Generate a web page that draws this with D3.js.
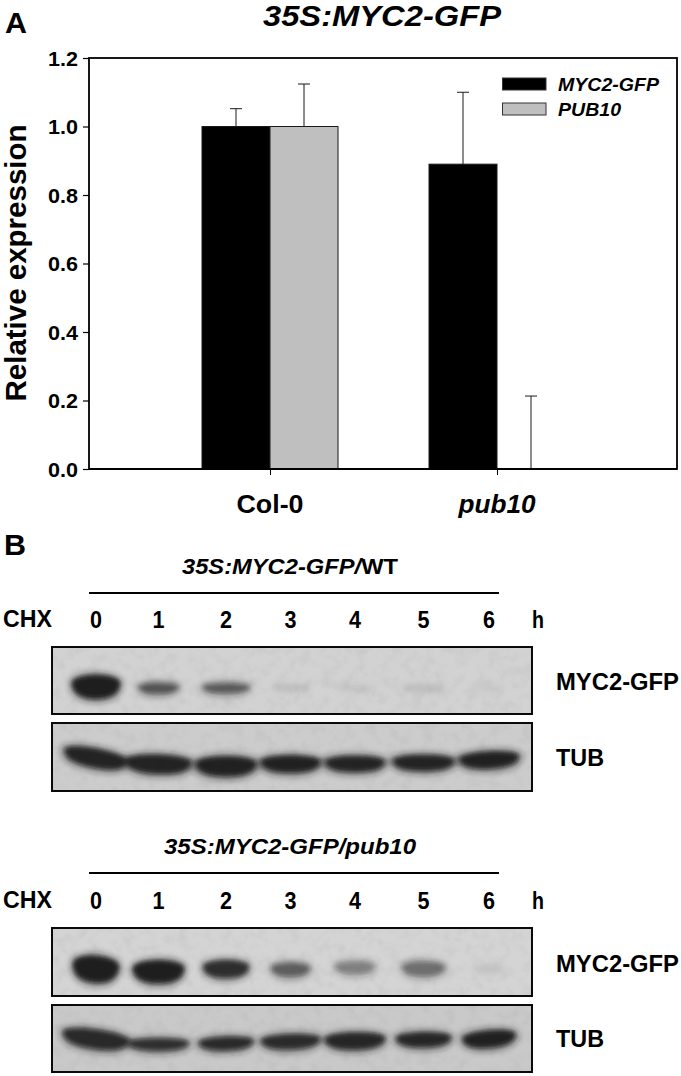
<!DOCTYPE html>
<html><head><meta charset="utf-8">
<script src="https://cdn.jsdelivr.net/npm/d3@7/dist/d3.min.js"></script>
<style>html,body{margin:0;padding:0;background:#fff}svg{display:block}
text{font-family:"Liberation Sans",Arial,sans-serif;font-weight:bold;fill:#000}</style>
</head><body><svg id="c" width="681" height="1076"></svg>
<script>
// ---- bar chart data
const groups = ["Col-0","pub10"];
const seriesNames = ["MYC2-GFP","PUB10"];
const seriesColors = ["#000000","#bfbfbf"];
const myc2Values = [1.0,0.89];
const pub10Values = [1.0,0.0];
const myc2Tops = [1.052,1.10];
const pub10Tops = [1.124,0.213];
const yTicks = [0,0.2,0.4,0.6,0.8,1.0,1.2];
// ---- blot data: lane labels, relative band darkness, width and height
const lanes = [0,1,2,3,4,5,6];
const wtMycDark = [1.0,0.55,0.52,0.06,0.04,0.06,0.03];
const wtMycW = [47,40,47,37,38,42,28];
const wtMycH = [24,12,11,8,8,9,8];
const wtTubDark = [0.95,0.95,0.97,0.97,0.95,0.95,0.97];
const wtTubW = [62,64,59,58,58,60,58];
const wtTubH = [19,19,20,17,16,16,17];
const pubMycDark = [1.0,1.0,0.86,0.5,0.34,0.42,0.05];
const pubMycW = [45,50,45,39,40,43,28];
const pubMycH = [27,23,18,15,14,16,11];
const pubTubDark = [0.82,0.78,0.82,0.88,0.92,0.92,0.97];
const pubTubW = [66,60,54,58,59,54,52];
const pubTubH = [20,13,14,15,17,15,17];

const svg = d3.select("#c");
const fit = (sel,len)=>sel.attr("textLength",len).attr("lengthAdjust","spacingAndGlyphs");

// ---- panel A
const yS = d3.scaleLinear().domain([0,1.2]).range([469,58]);
const x0 = d3.scaleBand().domain(groups).range([156.5,610.5]);
const x1 = d3.scaleBand().domain(seriesNames).range([0,136]);
const offset = x0.bandwidth()/2-68;
const L=89,R=677;
svg.append("rect").attr("x",L).attr("y",yS(1.2)).attr("width",R-L).attr("height",yS(0)-yS(1.2))
  .attr("fill","#fff").attr("stroke","#000").attr("stroke-width",1.8);
[myc2Values,pub10Values].forEach((vals,s)=>{
  const tops=s?pub10Tops:myc2Tops;
  groups.forEach((g,i)=>{
    const bx=x0(g)+offset+x1(seriesNames[s]), w=x1.bandwidth(), cx=bx+w/2;
    const e=svg.append("g").attr("stroke","#1a1a1a").attr("stroke-width",1);
    e.append("line").attr("x1",cx).attr("x2",cx).attr("y1",yS(vals[i])).attr("y2",yS(tops[i]));
    e.append("line").attr("x1",cx-6).attr("x2",cx+6).attr("y1",yS(tops[i])).attr("y2",yS(tops[i]));
    if(vals[i]>0) svg.append("rect").attr("x",bx).attr("y",yS(vals[i])).attr("width",w)
      .attr("height",yS(0)-yS(vals[i])).attr("fill",seriesColors[s]).attr("stroke","#1a1a1a").attr("stroke-width",1);
  });
});
const yAxis=svg.append("g").attr("transform",`translate(${L},0)`)
  .call(d3.axisLeft(yS).tickValues(yTicks).tickFormat(d3.format(".1f")).tickSize(6).tickPadding(5));
yAxis.select(".domain").remove();
yAxis.selectAll("line").attr("stroke","#000").attr("stroke-width",1.2);
yAxis.selectAll("text").attr("font-size",20.5).attr("dy","0.35em").call(fit,30);
const xAxis=svg.append("g").attr("transform",`translate(0,${yS(0)})`)
  .call(d3.axisBottom(d3.scalePoint().domain(groups).range([x0(groups[0])+x0.bandwidth()/2,x0(groups[1])+x0.bandwidth()/2])).tickSize(6).tickFormat(""));
xAxis.select(".domain").attr("stroke","#000").attr("stroke-width",1.8).attr("d",`M${L},0H${R}`);
xAxis.selectAll("line").attr("stroke","#000");
groups.forEach((g,i)=>{
  svg.append("text").attr("x",x0(g)+x0.bandwidth()/2).attr("y",513).attr("text-anchor","middle")
    .attr("font-size",26).attr("font-style",i?"italic":"normal").text(g).call(fit,i?77:67);
});
seriesNames.forEach((n,i)=>{
  const yy=[84,109][i];
  svg.append("rect").attr("x",502.5).attr("y",yy-6).attr("width",43.5).attr("height",12)
    .attr("fill",seriesColors[i]).attr("stroke","#333").attr("stroke-width",1);
  svg.append("text").attr("x",558).attr("y",yy+6.5).attr("font-size",18).attr("font-style","italic")
    .text(n).call(fit,i?63:101);
});
svg.append("text").attr("x",5).attr("y",33).attr("font-size",30).call(fit,22).text("A");
svg.append("text").attr("x",382).attr("y",26).attr("text-anchor","middle").attr("font-size",30)
  .attr("font-style","italic").text("35S:MYC2-GFP").call(fit,238);
svg.append("text").attr("transform","translate(26,263) rotate(-90)").attr("text-anchor","middle")
  .attr("font-size",30).text("Relative expression").call(fit,277);

// ---- panel B
const laneX=d3.scaleLinear().domain([0,6]).range([96,489]);
const laneNudge=[0,-3,-1,-2,-3,0,0];
const defs=svg.append("defs");
const blur=(id,sd)=>defs.append("filter").attr("id",id).attr("x","-30%").attr("y","-80%").attr("width","160%").attr("height","260%")
  .append("feGaussianBlur").attr("stdDeviation",sd);
blur("soft",1.9); blur("halo",3.6);
const grain=defs.append("filter").attr("id","grain").attr("x",0).attr("y",0).attr("width","100%").attr("height","100%");
grain.append("feTurbulence").attr("type","fractalNoise").attr("baseFrequency",0.09).attr("numOctaves",3).attr("seed",7);
grain.append("feColorMatrix").attr("values","0 0 0 0 0.3  0 0 0 0 0.3  0 0 0 0 0.3  1.1 0 0 0 -0.48");

// lens-shaped band: flat on top, bulging below
function lens(w,h){
  const p=d3.path(),a=w/2,t=h*0.42,b=h*0.58;
  p.moveTo(-a,-t*0.2);
  p.bezierCurveTo(-a*0.8,-t*1.1,a*0.8,-t*1.1,a,-t*0.2);
  p.bezierCurveTo(a*1.02,b*0.7,a*0.6,b*1.05,0,b*1.05);
  p.bezierCurveTo(-a*0.6,b*1.05,-a*1.02,b*0.7,-a,-t*0.2);
  p.closePath();
  return p.toString();
}
function blot(top,h,left,right,bg,cy,darkArr,wArr,hArr,dy,tilt,gap){
  svg.append("rect").attr("x",left).attr("y",top).attr("width",right-left).attr("height",h).attr("fill",bg);
  svg.append("rect").attr("x",left).attr("y",top).attr("width",right-left).attr("height",h).attr("filter","url(#grain)").attr("opacity",0.3);
  const halo=svg.append("g").attr("filter","url(#halo)");
  const core=svg.append("g").attr("filter","url(#soft)");
  lanes.forEach(i=>{
    const tr=`translate(${laneX(i)+laneNudge[i]},${cy+dy[i]}) rotate(${tilt[i]})`;
    halo.append("path").attr("d",lens(wArr[i]+gap,hArr[i]+5)).attr("transform",tr)
      .attr("fill","#202020").attr("opacity",darkArr[i]*0.65);
    core.append("path").attr("d",lens(wArr[i],hArr[i]-1)).attr("transform",tr)
      .attr("fill","#161616").attr("opacity",darkArr[i]*0.9);
  });
  svg.append("rect").attr("x",left).attr("y",top).attr("width",right-left).attr("height",h)
    .attr("fill","none").attr("stroke","#0a0a0a").attr("stroke-width",2);
}
function header(titleParts,titleX,titleY,lineY,numY,len){
  const t=svg.append("text").attr("x",titleX).attr("y",titleY).attr("font-size",22).call(fit,len);
  titleParts.forEach(p=>t.append("tspan").attr("font-style",p[1]?"italic":"normal").text(p[0]));
  svg.append("line").attr("x1",89).attr("x2",499).attr("y1",lineY).attr("y2",lineY).attr("stroke","#000").attr("stroke-width",2);
  svg.append("text").attr("x",3).attr("y",numY).attr("font-size",23).text("CHX").call(fit,49);
  lanes.forEach(i=>svg.append("text").attr("x",laneX(i)+laneNudge[i]).attr("y",numY+1).attr("text-anchor","middle").attr("font-size",23).call(fit,12).text(i));
  svg.append("text").attr("x",532).attr("y",numY+1).attr("font-size",23).call(fit,12).text("h");
}
function side(txt,y){svg.append("text").attr("x",556).attr("y",y).attr("font-size",23).text(txt).call(fit,txt==="TUB"?48:123);}

svg.append("text").attr("x",4).attr("y",555).attr("font-size",30).call(fit,22).text("B");
header([["35S:MYC2-GFP",1],["/",1],["WT",0]],182,574,593,627,216);
blot(647,67,52,532,"#d2d2d2",684,wtMycDark,wtMycW,wtMycH,[0,3,3,3,3,3,3],[0,0,0,0,0,0,0],4);
blot(723,68,52,532,"#cccccc",761,wtTubDark,wtTubW,wtTubH,[-5,1,3,1,1,0,-3],[11,2,0,0,0,0,-3],8);
side("MYC2-GFP",690); side("TUB",766);

header([["35S:MYC2-GFP/pub10",1]],164,854,873,908,252);
blot(928,68,52,532,"#d4d4d4",966,pubMycDark,pubMycW,pubMycH,[0,3,1,2,0,1,2],[5,0,0,0,0,0,0],4);
blot(1005,67,52,532,"#c9c9c9",1040,pubTubDark,pubTubW,pubTubH,[-3,3,2,0,-1,-2,-3],[8,0,-2,-2,-1,-1,-5],6);
side("MYC2-GFP",972); side("TUB",1047);
</script></body></html>
